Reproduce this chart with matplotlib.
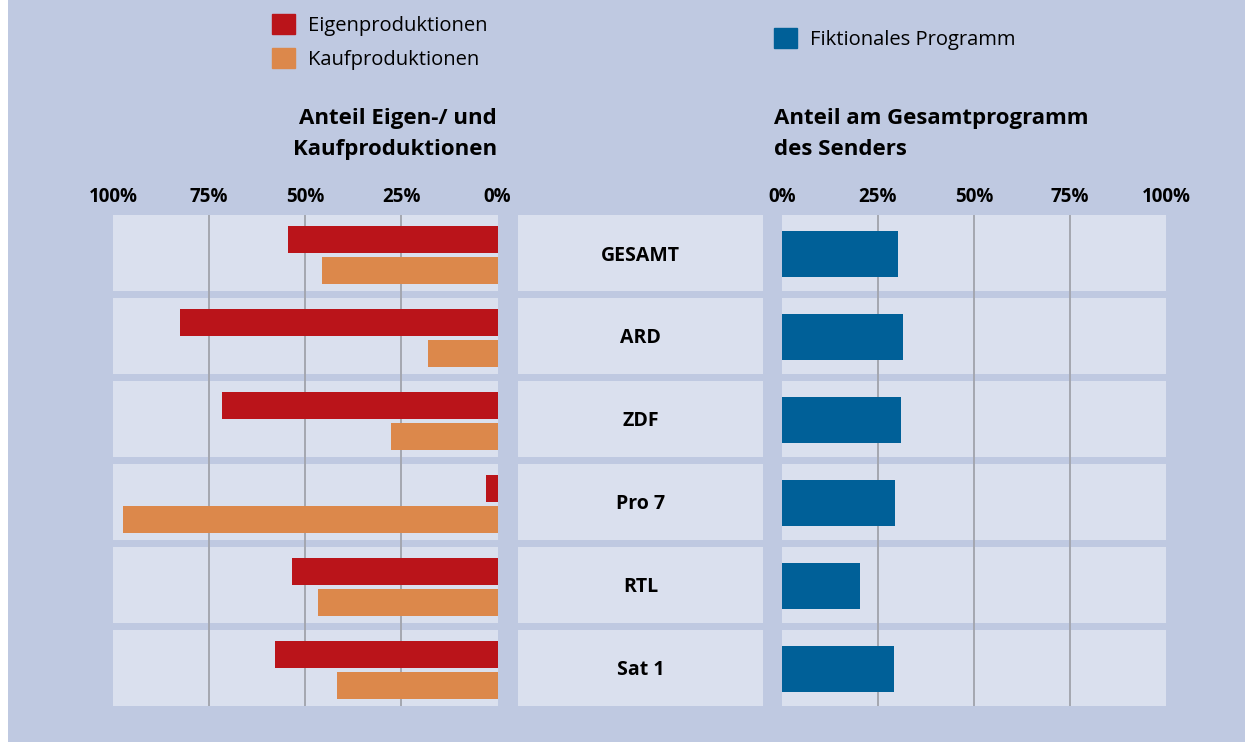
import matplotlib
matplotlib.use("Agg")
import matplotlib.pyplot as plt
from matplotlib.patches import Patch, Rectangle

plt.rcParams['font.family'] = ['Open Sans', 'DejaVu Sans']

# -------------------------------------------------
# Data (percent)
# -------------------------------------------------
senders = ["GESAMT", "ARD", "ZDF", "Pro 7", "RTL", "Sat 1"]
eigen = [54.5, 82.6, 71.6, 3.0, 53.4, 57.9]
kauf = [45.7, 18.1, 27.7, 97.4, 46.7, 41.8]
fiktional = [30.1, 31.6, 31.1, 29.3, 20.2, 29.1]
left_ticks = [100, 75, 50, 25, 0]
right_ticks = [0, 25, 50, 75, 100]

# -------------------------------------------------
# Style
# -------------------------------------------------
BG = "#bfc9e1"
BOX = "#dae0ee"
GRID = "#a4a7b0"
RED = "#ba141a"
ORANGE = "#dc884b"
BLUE = "#006098"

W, H = 1245, 742
fig = plt.figure(figsize=(W / 100, H / 100), dpi=100, facecolor="white")
fig.patches.append(Rectangle((8 / W, 0), 1 - 8 / W, 1, transform=fig.transFigure,
                             facecolor=BG, edgecolor="none", zorder=-10))


def px_axes(x0, x1, y0=215, y1=706):
    return fig.add_axes([x0 / W, 1 - y1 / H, (x1 - x0) / W, (y1 - y0) / H])


n = len(senders)
half = 0.458
rows = range(n)


def setup(ax):
    ax.set_facecolor("none")
    ax.set_ylim(n - 1 + half, -half)
    for s in ax.spines.values():
        s.set_visible(False)
    ax.set_yticks([])
    for i in rows:
        ax.axhspan(i - half, i + half, color=BOX, zorder=0, lw=0)


# -------------------------------------------------
# Left panel: Eigen-/Kaufproduktionen
# -------------------------------------------------
axl = px_axes(113, 497.5)
setup(axl)
axl.set_xlim(100, 0)
for g in [25, 50, 75]:
    axl.axvline(g, color=GRID, lw=1.4, zorder=1)
axl.barh([i - 0.165 for i in rows], eigen, height=0.32, color=RED, zorder=2)
axl.barh([i + 0.21 for i in rows], kauf, height=0.32, color=ORANGE, zorder=2)
axl.xaxis.tick_top()
axl.set_xticks(left_ticks)
axl.set_xticklabels([f"{t}%" for t in left_ticks], fontsize=13.5, fontweight="bold")
axl.tick_params(axis="x", length=0, pad=6)

# -------------------------------------------------
# Middle panel: sender names
# -------------------------------------------------
axm = px_axes(518, 763)
setup(axm)
axm.set_xlim(0, 1)
axm.set_xticks([])
for i, name in enumerate(senders):
    axm.text(0.5, i + 0.03, name, ha="center", va="center", fontsize=14, fontweight="bold")

# -------------------------------------------------
# Right panel: Anteil am Gesamtprogramm
# -------------------------------------------------
axr = px_axes(782, 1166)
setup(axr)
axr.set_xlim(0, 98.5)
for g in [25, 50, 75]:
    axr.axvline(g, color=GRID, lw=1.4, zorder=1)
axr.barh([i + 0.012 for i in rows], fiktional, height=0.554, color=BLUE, zorder=2)
axr.xaxis.tick_top()
axr.set_xticks(right_ticks)
axr.set_xticklabels([f"{t}%" for t in right_ticks], fontsize=13.5, fontweight="bold")
axr.tick_params(axis="x", length=0, pad=6)

# -------------------------------------------------
# Headings and legends
# -------------------------------------------------
fig.text(497 / W, 1 - 108 / H, "Anteil Eigen-/ und\nKaufproduktionen", ha="right",
         va="top", multialignment="right", fontsize=16, fontweight="bold", linespacing=1.6)
fig.text(774 / W, 1 - 108 / H, "Anteil am Gesamtprogramm\ndes Senders", ha="left",
         va="top", fontsize=16, fontweight="bold", linespacing=1.6)

fig.legend(handles=[Patch(color=RED, label="Eigenproduktionen"),
                    Patch(color=ORANGE, label="Kaufproduktionen")],
           loc="upper left", bbox_to_anchor=(272 / W, 1 - 14 / H), frameon=False,
           fontsize=14.5, handlelength=1.15, handleheight=1.15, handletextpad=0.65,
           labelspacing=0.6, borderpad=0, borderaxespad=0)
fig.legend(handles=[Patch(color=BLUE, label="Fiktionales Programm")],
           loc="upper left", bbox_to_anchor=(774 / W, 1 - 28 / H), frameon=False,
           fontsize=14.5, handlelength=1.15, handleheight=1.15, handletextpad=0.65,
           borderpad=0, borderaxespad=0)

plt.savefig("out.png", dpi=100, facecolor=fig.get_facecolor())
